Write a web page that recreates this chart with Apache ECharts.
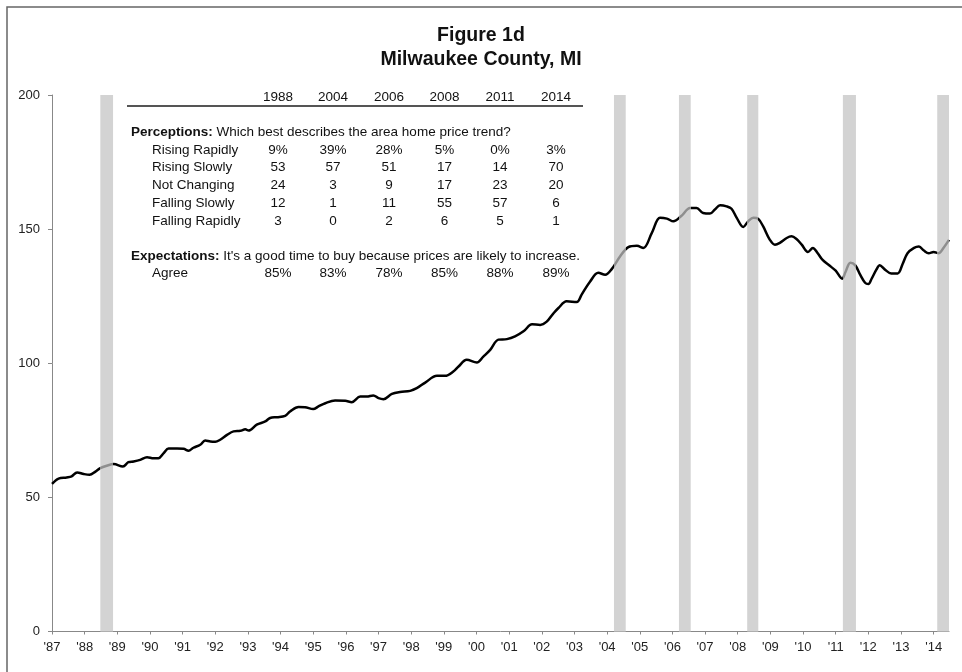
<!DOCTYPE html>
<html>
<head>
<meta charset="utf-8">
<script src="https://cdn.jsdelivr.net/npm/echarts@6/dist/echarts.min.js"></script>
<style>
  html, body { margin: 0; padding: 0; background: #fff; }
  #chart { width: 962px; height: 672px; }
</style>
</head>
<body>
<div id="chart"></div>
<script>
// home price index (year, index)
var years = [
  1987.0, 1987.2, 1987.45, 1987.6, 1987.77, 1987.97, 1988.15, 1988.33, 1988.48, 1988.68,
  1988.89, 1989.17, 1989.34, 1989.5, 1989.7, 1989.91, 1990.11, 1990.26, 1990.42, 1990.57,
  1990.83, 1991.03, 1991.18, 1991.33, 1991.54, 1991.69, 1991.85, 1992.0, 1992.15, 1992.36,
  1992.56, 1992.77, 1992.92, 1993.02, 1993.27, 1993.53, 1993.68, 1993.89, 1994.14, 1994.29,
  1994.55, 1994.75, 1995.0, 1995.16, 1995.37, 1995.67, 1995.98, 1996.18, 1996.44, 1996.64,
  1996.84, 1997.0, 1997.15, 1997.41, 1997.66, 1997.97, 1998.17, 1998.43, 1998.79, 1999.04,
  1999.29, 1999.45, 1999.7, 2000.01, 2000.21, 2000.42, 2000.67, 2000.93, 2001.18, 2001.45,
  2001.7, 2001.95, 2002.15, 2002.35, 2002.51, 2002.76, 2003.07, 2003.22, 2003.48, 2003.73,
  2003.94, 2004.14, 2004.4, 2004.65, 2004.91, 2005.11, 2005.37, 2005.62, 2005.83, 2006.03,
  2006.28, 2006.54, 2006.74, 2006.94, 2007.15, 2007.3, 2007.46, 2007.66, 2007.81, 2007.97,
  2008.17, 2008.32, 2008.48, 2008.63, 2008.78, 2008.98, 2009.14, 2009.29, 2009.5, 2009.65,
  2009.8, 2009.96, 2010.15, 2010.3, 2010.45, 2010.6, 2010.8, 2011.0, 2011.2, 2011.3,
  2011.45, 2011.6, 2011.75, 2011.9, 2012.0, 2012.1, 2012.25, 2012.35, 2012.5, 2012.7,
  2012.9, 2013.05, 2013.2, 2013.4, 2013.55, 2013.7, 2013.85, 2014.0, 2014.15, 2014.3,
  2014.47
]
var priceIndex = [
  55.0, 57.0, 57.4, 57.8, 59.3, 58.7, 58.4, 59.6, 60.9, 61.8,
  62.4, 61.5, 63.1, 63.4, 64.0, 65.0, 64.6, 64.6, 66.5, 68.2,
  68.2, 68.1, 67.4, 68.5, 69.6, 71.2, 70.8, 70.7, 71.5, 73.3,
  74.6, 74.8, 75.4, 74.9, 77.1, 78.3, 79.6, 79.9, 80.4, 82.0,
  83.7, 83.6, 82.9, 83.9, 85.1, 86.1, 86.0, 85.5, 87.6, 87.6,
  88.0, 87.0, 86.6, 88.6, 89.3, 89.7, 90.7, 92.8, 95.3, 95.3,
  96.9, 98.8, 101.3, 100.3, 102.5, 105.0, 108.8, 109.0, 110.0, 112.0,
  114.5, 114.3, 115.5, 118.5, 120.6, 123.1, 122.8, 125.6, 130.5, 133.7,
  133.0, 135.1, 139.9, 143.3, 143.8, 143.0, 148.6, 154.2, 153.9, 152.9,
  155.0, 157.9, 157.9, 156.0, 155.8, 157.3, 158.9, 158.5, 157.6, 154.2,
  150.8, 152.9, 154.2, 153.8, 151.0, 146.1, 144.2, 144.9, 146.7, 147.3,
  146.3, 144.2, 141.5, 143.0, 141.0, 138.5, 136.5, 134.5, 131.5, 134.0,
  137.5, 136.5, 133.0, 130.0, 129.5, 131.5, 135.0, 136.5, 135.0, 133.5,
  133.5, 137.0, 141.0, 143.0, 143.5, 142.0, 141.0, 141.5, 141.0, 143.0,
  146.0
]

// survey periods (grey bands)
var bandStart = [1988.48, 2004.21, 2006.2, 2008.29, 2011.22, 2014.11]
var bandEnd = [1988.87, 2004.57, 2006.56, 2008.63, 2011.62, 2014.47]

var xTickYears = [1987, 1988, 1989, 1990, 1991, 1992, 1993, 1994, 1995, 1996, 1997, 1998, 1999, 2000,
  2001, 2002, 2003, 2004, 2005, 2006, 2007, 2008, 2009, 2010, 2011, 2012, 2013, 2014]

// survey table
var surveyYears = ['1988', '2004', '2006', '2008', '2011', '2014']
var perceptionLabels = ['Rising Rapidly', 'Rising Slowly', 'Not Changing', 'Falling Slowly', 'Falling Rapidly']
var risingRapidly = ['9%', '39%', '28%', '5%', '0%', '3%']
var risingSlowly = ['53', '57', '51', '17', '14', '70']
var notChanging = ['24', '3', '9', '17', '23', '20']
var fallingSlowly = ['12', '1', '11', '55', '57', '6']
var fallingRapidly = ['3', '0', '2', '6', '5', '1']
var agree = ['85%', '83%', '78%', '85%', '88%', '89%']

var FONT = '"Liberation Sans", Arial, sans-serif'
var TSIZE = 13.5
var colX = [278, 333, 389, 444.5, 500, 556]

var chart = echarts.init(document.getElementById('chart'))

var lineData = []
for (var i = 0; i < years.length; i++) {
  lineData.push([years[i], priceIndex[i]])
}

var bands = []
var pieces = []
for (var b = 0; b < bandStart.length; b++) {
  bands.push([{ xAxis: bandStart[b] }, { xAxis: bandEnd[b] }])
  pieces.push({ gte: bandStart[b], lte: bandEnd[b], color: '#8e8e8e' })
}

function txt(x, y, s, opts) {
  opts = opts || {}
  return {
    type: 'text',
    x: x,
    y: y,
    style: {
      text: s,
      fill: '#111',
      font: (opts.bold ? 'bold ' : '') + TSIZE + 'px ' + FONT,
      textAlign: opts.align || 'left',
      textVerticalAlign: 'middle'
    }
  }
}

function richLine(x, y, head, rest) {
  return {
    type: 'text',
    x: x,
    y: y,
    style: {
      text: '{b|' + head + '} ' + rest,
      fill: '#111',
      font: TSIZE + 'px ' + FONT,
      textVerticalAlign: 'middle',
      rich: { b: { fontWeight: 'bold', fontSize: TSIZE, fontFamily: FONT, fill: '#111' } }
    }
  }
}

var graphics = []
// outer frame
graphics.push({
  type: 'rect',
  shape: { x: 7, y: 7, width: 1000, height: 1000 },
  style: { fill: 'none', stroke: '#666', lineWidth: 1.5 },
  silent: true
})

// table header
for (var c = 0; c < surveyYears.length; c++) {
  graphics.push(txt(colX[c], 97, surveyYears[c], { align: 'center' }))
}
graphics.push({
  type: 'line',
  shape: { x1: 127, y1: 106, x2: 583, y2: 106 },
  style: { stroke: '#555', lineWidth: 2 }
})

graphics.push(richLine(131, 132, 'Perceptions:', 'Which best describes the area home price trend?'))

var rowVals = [risingRapidly, risingSlowly, notChanging, fallingSlowly, fallingRapidly]
for (var r = 0; r < perceptionLabels.length; r++) {
  var ry = 150 + r * 17.7
  graphics.push(txt(152, ry, perceptionLabels[r]))
  for (var k = 0; k < colX.length; k++) {
    graphics.push(txt(colX[k], ry, rowVals[r][k], { align: 'center' }))
  }
}

graphics.push(richLine(131, 256, 'Expectations:', "It's a good time to buy because prices are likely to increase."))
graphics.push(txt(152, 273.5, 'Agree'))
for (var a = 0; a < colX.length; a++) {
  graphics.push(txt(colX[a], 273.5, agree[a], { align: 'center' }))
}

var option = {
  animation: false,
  backgroundColor: '#fff',
  textStyle: { fontFamily: FONT },
  title: {
    text: 'Figure 1d\nMilwaukee County, MI',
    left: 'center',
    top: 19,
    textStyle: {
      fontFamily: FONT,
      fontSize: 19.5,
      fontWeight: 'bold',
      color: '#111',
      lineHeight: 24
    }
  },
  grid: { left: 52, right: 13, top: 95, bottom: 40.5 },
  xAxis: {
    type: 'value',
    min: 1987,
    max: 2014.47,
    interval: 1,
    axisLine: { show: true, onZero: false, lineStyle: { color: '#888', width: 1 } },
    axisTick: { show: true, length: 3, customValues: xTickYears, lineStyle: { color: '#888' } },
    axisLabel: {
      customValues: xTickYears,
      margin: 9,
      fontSize: 13,
      color: '#222',
      fontFamily: FONT,
      formatter: function(v) {
        return "'" + String(v).slice(2)
      }
    },
    splitLine: { show: false }
  },
  yAxis: {
    type: 'value',
    min: 0,
    max: 200,
    interval: 50,
    axisLine: { show: true, lineStyle: { color: '#888', width: 1 } },
    axisTick: { show: true, length: 4, lineStyle: { color: '#888' } },
    axisLabel: { margin: 12, fontSize: 13, color: '#222', fontFamily: FONT },
    splitLine: { show: false }
  },
  visualMap: {
    type: 'piecewise',
    show: false,
    dimension: 0,
    seriesIndex: 0,
    pieces: pieces,
    outOfRange: { color: '#000' }
  },
  series: [
    {
      type: 'line',
      data: lineData,
      showSymbol: false,
      smooth: 0.35,
      lineStyle: { width: 2.5 },
      markArea: {
        silent: true,
        itemStyle: { color: '#d3d3d3' },
        data: bands
      },
      z: 3
    }
  ],
  graphic: graphics
}

chart.setOption(option)
</script>
</body>
</html>
